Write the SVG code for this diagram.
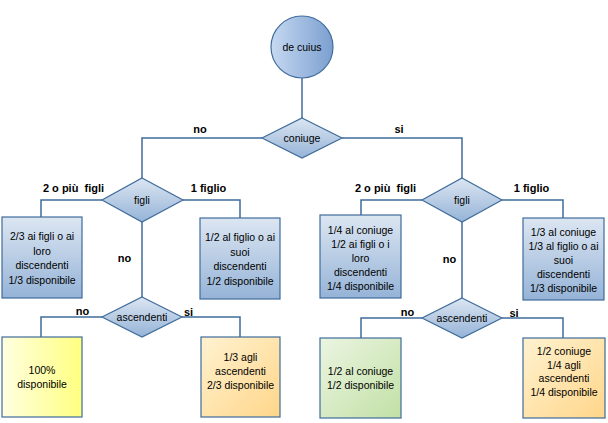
<svg xmlns="http://www.w3.org/2000/svg" width="608" height="423" viewBox="0 0 608 423">
<defs>
<linearGradient id="gBlueV" x1="0" y1="0" x2="0" y2="1"><stop offset="0" stop-color="#dce6f2"/><stop offset="1" stop-color="#95b3d7"/></linearGradient>
<linearGradient id="gCircle" x1="0" y1="0" x2="1" y2="0"><stop offset="0" stop-color="#c6d9f1"/><stop offset="1" stop-color="#7b9fd0"/></linearGradient>
<linearGradient id="gYellow" x1="0" y1="0" x2="1" y2="0"><stop offset="0" stop-color="#ffffe0"/><stop offset="1" stop-color="#ffff80"/></linearGradient>
<linearGradient id="gOrange" x1="0" y1="0" x2="1" y2="1"><stop offset="0" stop-color="#fff2d0"/><stop offset="1" stop-color="#ffd68a"/></linearGradient>
<linearGradient id="gGreen" x1="0" y1="0" x2="1" y2="1"><stop offset="0" stop-color="#ebf5e1"/><stop offset="1" stop-color="#c2e0a6"/></linearGradient>
</defs>
<style>
.shape{stroke:#3f6c9b;stroke-width:1.2}
.blue{fill:url(#gBlueV)}
.conn path{fill:none;stroke:#3f6c9b;stroke-width:1.5}
text{font-family:"Liberation Sans",Arial,sans-serif;font-size:10.5px;fill:#000;text-anchor:middle}
.lbl{font-weight:bold;font-size:11px;white-space:pre}
</style>
<g id="connectors" class="conn">
<path d="M302,78 V118"/>
<path d="M262,138 H142 V178"/>
<path d="M342,138 H462 V178"/>
<path d="M102,200 H41 V217"/>
<path d="M183,200 H240 V218"/>
<path d="M142,222 V297"/>
<path d="M102,317 H41 V337"/>
<path d="M182,317 H240 V337"/>
<path d="M422,200 H361 V215"/>
<path d="M502,200 H563 V218"/>
<path d="M462,222 V298"/>
<path d="M422,318 H361 V338"/>
<path d="M502,318 H563 V338"/>
</g>
<g id="labels">
<text class="lbl" x="200" y="133">no</text>
<text class="lbl" x="399" y="133">si</text>
<text class="lbl" x="73.5" y="192" xml:space="preserve">2 o più  figli</text>
<text class="lbl" x="208.5" y="192">1 figlio</text>
<text class="lbl" x="124.5" y="262">no</text>
<text class="lbl" x="385.5" y="192" xml:space="preserve">2 o più  figli</text>
<text class="lbl" x="531.5" y="192">1 figlio</text>
<text class="lbl" x="449.5" y="263">no</text>
<text class="lbl" x="82.5" y="315">no</text>
<text class="lbl" x="188.5" y="316">si</text>
<text class="lbl" x="407.5" y="316">no</text>
<text class="lbl" x="514" y="317">si</text>
</g>
<g id="decuius">
<circle class="shape" cx="302" cy="47" r="31" fill="url(#gCircle)"/>
<text x="302" y="51">de cuius</text>
</g>
<g id="coniuge">
<polygon class="shape blue" points="302,118 342,138 302,158 262,138"/>
<text x="302" y="142">coniuge</text>
</g>
<g id="figli-left">
<polygon class="shape blue" points="142,178 183,200 142,222 102,200"/>
<text x="142" y="204">figli</text>
</g>
<g id="box-2figli-left">
<rect class="shape blue" x="2" y="217" width="80" height="81"/>
<text x="42" y="240">2/3 ai figli o ai</text>
<text x="42" y="254.5">loro</text>
<text x="42" y="269">discendenti</text>
<text x="42" y="283.5">1/3 disponibile</text>
</g>
<g id="box-1figlio-left">
<rect class="shape blue" x="200" y="218" width="80" height="81"/>
<text x="240" y="241">1/2 al figlio o ai</text>
<text x="240" y="255.5">suoi</text>
<text x="240" y="270">discendenti</text>
<text x="240" y="284.5">1/2 disponibile</text>
</g>
<g id="asc-left">
<polygon class="shape blue" points="142,297 182,317 142,337 102,317"/>
<text x="142" y="321">ascendenti</text>
</g>
<g id="box-no-asc-left">
<rect class="shape" x="2" y="337" width="80" height="80" fill="url(#gYellow)"/>
<text x="42" y="374">100%</text>
<text x="42" y="388">disponibile</text>
</g>
<g id="box-si-asc-left">
<rect class="shape" x="201" y="337" width="79" height="80" fill="url(#gOrange)"/>
<text x="240.5" y="361">1/3 agli</text>
<text x="240.5" y="375">ascendenti</text>
<text x="240.5" y="389">2/3 disponibile</text>
</g>
<g id="figli-right">
<polygon class="shape blue" points="462,178 502,200 462,222 422,200"/>
<text x="462" y="204">figli</text>
</g>
<g id="box-2figli-right">
<rect class="shape blue" x="320" y="215" width="81" height="83"/>
<text x="360.5" y="234">1/4 al coniuge</text>
<text x="360.5" y="248">1/2 ai figli o i</text>
<text x="360.5" y="262">loro</text>
<text x="360.5" y="276">discendenti</text>
<text x="360.5" y="290">1/4 disponibile</text>
</g>
<g id="box-1figlio-right">
<rect class="shape blue" x="523" y="218" width="81" height="82"/>
<text x="563.5" y="236">1/3 al coniuge</text>
<text x="563.5" y="250">1/3 al figlio o ai</text>
<text x="563.5" y="264">suoi</text>
<text x="563.5" y="278">discendenti</text>
<text x="563.5" y="292">1/3 disponibile</text>
</g>
<g id="asc-right">
<polygon class="shape blue" points="462,298 502,318 462,338 422,318"/>
<text x="462" y="322">ascendenti</text>
</g>
<g id="box-no-asc-right">
<rect class="shape" x="320" y="338" width="81" height="80" fill="url(#gGreen)"/>
<text x="360.5" y="375">1/2 al coniuge</text>
<text x="360.5" y="389">1/2 disponibile</text>
</g>
<g id="box-si-asc-right">
<rect class="shape" x="523" y="338" width="82" height="80" fill="url(#gOrange)"/>
<text x="564" y="355">1/2 coniuge</text>
<text x="564" y="369">1/4 agli</text>
<text x="564" y="382">ascendenti</text>
<text x="564" y="396">1/4 disponibile</text>
</g>
</svg>
